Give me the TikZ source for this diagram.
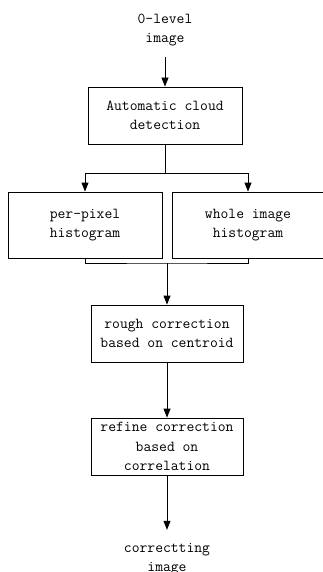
\documentclass[tikz,border=0pt]{standalone}
\usetikzlibrary{arrows.meta}
\begin{document}
\begin{tikzpicture}[x=1pt,y=-1pt,
  every node/.style={font=\ttfamily\fontsize{15.2}{19.5}\selectfont,align=center,inner sep=0pt},
  procbox/.style={draw,line width=0.8pt,minimum width=#1,minimum height=57pt},
  procbox/.default=152pt,
  conn/.style={line width=0.8pt},
  arr/.style={conn,-{Triangle[width=7pt,length=9pt]}}]
\useasboundingbox (0,0) rectangle (323,572);
\node[minimum height=54pt] (top) at (165,30) {0-level\\image};
\node[procbox=154pt] (b1) at (165,115.5) {Automatic cloud\\detection};
\node[procbox=154pt,minimum height=66pt] (lb) at (85,225) {per-pixel\\histogram};
\node[procbox=152pt,minimum height=66pt] (rb) at (248,225) {whole image\\histogram};
\node[procbox] (b3) at (167,333.5) {rough correction\\based on centroid};
\node[procbox] (b4) at (167,446.5) {refine correction\\based on\\correlation};
\node[minimum height=58pt] (bot) at (167,559) {correctting\\image};
\coordinate (j1) at (165,173);
\coordinate (j2) at (167,263);
\draw[arr] (top) -- (b1);
\draw[conn] (b1.south) -- (j1);
\draw[arr] (j1) -| (lb.north);
\draw[arr] (j1) -| (rb.north);
\draw[conn] (lb.south) |- (j2) -| (rb.south);
\draw[arr] (j2) -- (b3.north);
\draw[arr] (b3) -- (b4);
\draw[arr] (b4) -- (bot);
\end{tikzpicture}
\end{document}
